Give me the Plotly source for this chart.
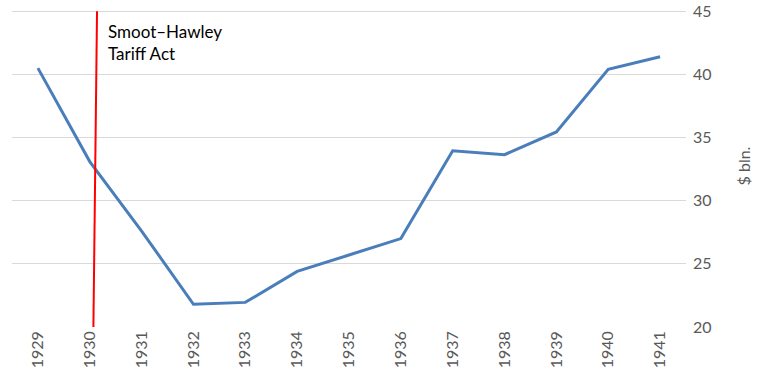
import plotly.graph_objects as go

years = [1929, 1930, 1931, 1932, 1933, 1934, 1935, 1936, 1937, 1938, 1939, 1940, 1941]
values = [40.5, 33.1, 27.6, 21.8, 21.95, 24.4, 25.7, 27.0, 33.95, 33.65, 35.45, 40.4, 41.4]
tick_labels = [str(y) for y in years]
y_ticks = [20, 25, 30, 35, 40, 45]
tariff_line_x = [1930.07, 1930.14]  # bottom, top (slightly slanted as in source)
tariff_text = "Smoot–Hawley<br>Tariff Act"
y_title = "$ bln."

FONT = "Lato, 'Open Sans', sans-serif"

fig = go.Figure()
fig.add_trace(go.Scatter(
    x=years, y=values, mode="lines",
    line=dict(color="#4a7ebb", width=3),
    hoverinfo="x+y", showlegend=False,
))

fig.add_shape(type="line", xref="x", yref="y",
              x0=tariff_line_x[0], y0=min(y_ticks), x1=tariff_line_x[1], y1=max(y_ticks),
              line=dict(color="#ff0000", width=2))

fig.add_annotation(x=1930.32, y=44.4, xref="x", yref="y",
                   text=tariff_text, showarrow=False, align="left",
                   xanchor="left", yanchor="top",
                   font=dict(family=FONT, size=17, color="#000000"))

fig.update_layout(
    width=763, height=382,
    margin=dict(l=12, r=77, t=5, b=55),
    paper_bgcolor="white", plot_bgcolor="white",
    font=dict(family=FONT, color="#595959"),
)
fig.update_xaxes(
    range=[1928.5, 1941.5], tickmode="array", tickvals=years, ticktext=tick_labels,
    tickangle=-90, showgrid=False, zeroline=False, showline=False, ticks="",
    tickfont=dict(size=16, color="#595959"), automargin=False,
)
fig.update_yaxes(
    side="right", range=[20, 45.5], tickmode="array", tickvals=y_ticks,
    showgrid=True, gridcolor="#d9d9d9", gridwidth=1, zeroline=False, showline=False,
    ticks="", tickfont=dict(size=16, color="#595959"), automargin=False,
    ticklabelstandoff=6,
    title=dict(text=y_title, font=dict(size=16, color="#595959"), standoff=28),
)

fig.write_html("out.html",
               config={"displayModeBar": False},
               post_script="document.body.style.margin='0';document.body.style.padding='0';")
